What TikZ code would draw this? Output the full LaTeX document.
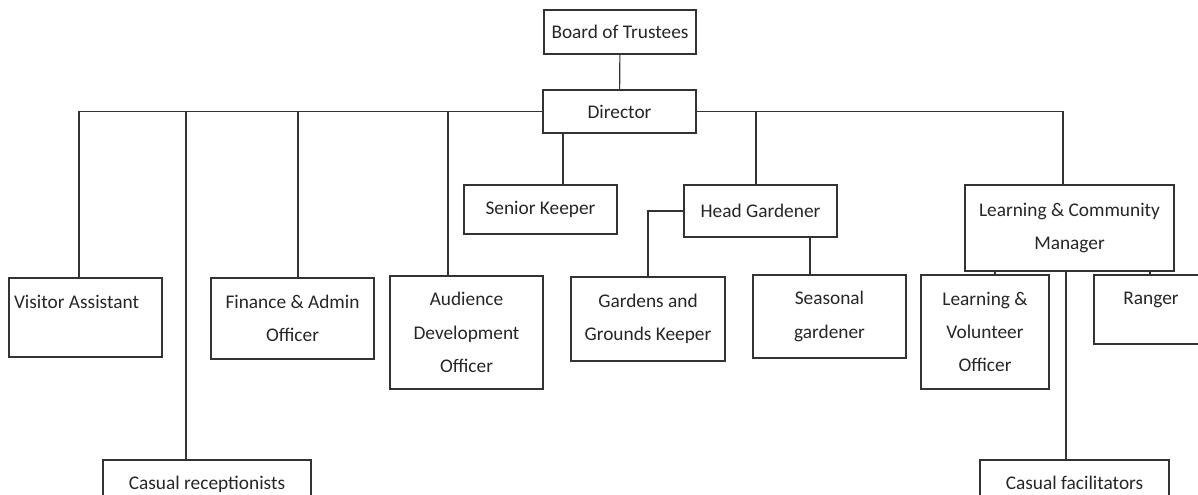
\documentclass[tikz,border=0pt]{standalone}
\usepackage{fontspec}
\setmainfont{Carlito}
\usepackage{tikz}

\begin{document}
\begin{tikzpicture}[
  x=0.75pt, y=-0.75pt,
  every node/.style={font=\fontsize{14.5}{25}\selectfont, text=black!85, align=center, inner sep=0pt},
  post/.style 2 args={draw=black!80, line width=0.85pt, minimum width=#1*0.75pt, minimum height=#2*0.75pt},
  toptext/.style 2 args={text height=#1*0.75pt, text depth=#2*0.75pt},
  link/.style={draw=black!80, line width=0.85pt}]

  \useasboundingbox (0,0) rectangle (1198,495);
  \clip (0,0) rectangle (1198,495);

  % Top of the chart
  \node[post={152}{44}] (board) at (620,32) {Board of Trustees};
  \node[post={153}{43}] (director) at (619.5,111.5) {Director};

  % Second level
  \node[post={153}{49}] (senior) at (540.5,209.5) {Senior Keeper};
  \node[post={153}{52}] (headgard) at (760.5,211) {Head Gardener};
  \node[post={209}{86}] (learncomm) at (1069.5,228) {Learning \& Community\\Manager};

  % Third level
  \node[post={153}{79}, toptext={30}{49}, text width=143*0.75pt, inner xsep=5*0.75pt, align=flush left]
    (visitor) at (85.5,317.5) {Visitor Assistant};
  \node[post={163}{81}] (finance) at (292.5,318.5) {Finance \& Admin\\Officer};
  \node[post={153}{113}] (audience) at (466.5,332.5) {Audience\\Development\\Officer};
  \node[post={154}{84}] (gardens) at (648,319) {Gardens and\\Grounds Keeper};
  \node[post={153}{83}] (seasonal) at (829.5,316.5) {Seasonal\\gardener};
  \node[post={128}{114}] (learnvol) at (985,332) {Learning \&\\Volunteer\\Officer};
  \node[post={114}{69}, toptext={29}{40}] (ranger) at (1151,309.5) {Ranger};

  % Casual staff
  \node[post={208}{65}, toptext={29}{36}] (casualrec) at (207,492.5) {Casual receptionists};
  \node[post={189}{65}, toptext={29}{36}] (casualfac) at (1074.5,492.5) {Casual facilitators};

  % Where the lines drop down
  \coordinate (xVisitor) at (79,0);
  \coordinate (xCasrec) at (186,0);
  \coordinate (xFinance) at (298,0);
  \coordinate (xAudience) at (448,0);
  \coordinate (xSenior) at (563,0);
  \coordinate (xHeadgard) at (756,0);
  \coordinate (xLearncomm) at (1063,0);
  \coordinate (xSeasonal) at (810,0);
  \coordinate (xLearnvol) at (995,0);
  \coordinate (xCasfac) at (1066,0);
  \coordinate (xRanger) at (1150,0);

  % Connect the posts
  \draw[link] (board) -- (director);
  \draw[link] (director.west) -| (xVisitor |- visitor.north);
  \draw[link] (director.east) -| (xLearncomm |- learncomm.north);
  \foreach \tap/\post in {xCasrec/casualrec, xFinance/finance, xAudience/audience, xHeadgard/headgard}
    \draw[link] (\tap |- director.west) -- (\tap |- \post.north);
  \draw[link] (xSenior |- director.south) -- (xSenior |- senior.north);
  \draw[link] (headgard.west) -| (gardens.north);
  \draw[link] (xSeasonal |- headgard.south) -- (xSeasonal |- seasonal.north);
  \foreach \tap/\post in {xLearnvol/learnvol, xCasfac/casualfac, xRanger/ranger}
    \draw[link] (\tap |- learncomm.south) -- (\tap |- \post.north);
\end{tikzpicture}
\end{document}
